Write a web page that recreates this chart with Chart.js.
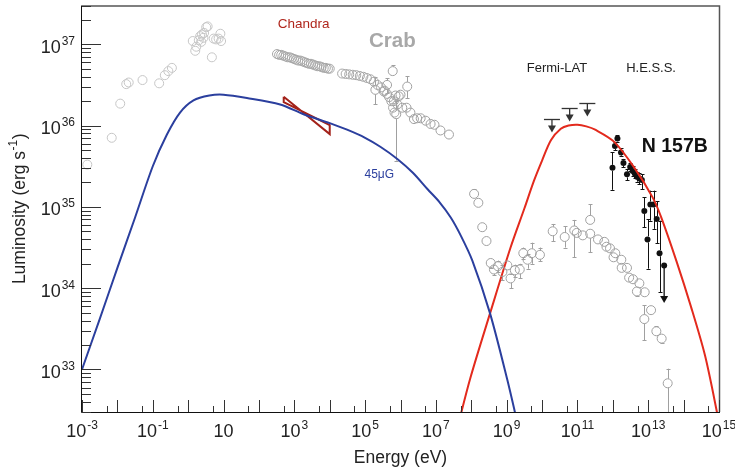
<!DOCTYPE html>
<html>
<head>
<meta charset="utf-8">
<script src="https://cdn.jsdelivr.net/npm/chart.js@4.4.1/dist/chart.umd.min.js"></script>
<style>
    html, body { margin: 0; padding: 0; background: #fff; }
    #wrap { width: 735px; height: 473px; }
</style>
</head>
<body>
<div id="wrap"><canvas id="sedChart"></canvas></div>
<script>
// values, as log10 (energy in eV, luminosity in erg/s)
const xTickPowers = [-3, -1, 1, 3, 5, 7, 9, 11, 13, 15];
const yTickPowers = [33, 34, 35, 36, 37];

// Crab radio / IR
const crabRadioE = [-2.85, -2.16, -1.92, -1.75, -1.68, -1.29, -0.82, -0.66, -0.56, -0.46, 0.13, 0.20, 0.23, 0.30, 0.34, 0.37, 0.39, 0.43, 0.45, 0.51, 0.55, 0.67, 0.72, 0.79, 0.86, 0.91, 0.93];
const crabRadioL = [35.52, 35.85, 36.27, 36.51, 36.53, 36.56, 36.52, 36.62, 36.67, 36.71, 37.04, 36.92, 36.97, 37.05, 37.10, 37.03, 37.12, 37.08, 37.14, 37.21, 37.22, 36.84, 37.07, 37.06, 37.07, 37.13, 37.04];

// Crab optical / UV band
const crabOptE = [2.51, 2.57, 2.63, 2.69, 2.75, 2.81, 2.87, 2.93, 2.99, 3.05, 3.11, 3.17, 3.23, 3.29, 3.35, 3.41, 3.47, 3.53, 3.59, 3.65, 3.71, 3.77, 3.83, 3.89, 3.95, 4.00];
const crabOptL = [36.88, 36.87, 36.87, 36.86, 36.85, 36.84, 36.84, 36.83, 36.82, 36.81, 36.80, 36.80, 36.79, 36.78, 36.77, 36.76, 36.76, 36.75, 36.74, 36.73, 36.73, 36.72, 36.71, 36.71, 36.70, 36.70];

// Crab X-ray band
const crabXrayE = [4.35, 4.45, 4.55, 4.65, 4.75, 4.85, 4.95, 5.05, 5.15, 5.25, 5.35, 5.45, 5.55, 5.62, 5.68, 5.74, 5.79, 5.83];
const crabXrayL = [36.64, 36.635, 36.63, 36.625, 36.62, 36.61, 36.60, 36.585, 36.57, 36.54, 36.50, 36.47, 36.43, 36.39, 36.35, 36.30, 36.22, 36.16];

// Crab hard X-ray / MeV points with error bars
const crabMevE = [5.29, 5.53, 5.62, 5.78, 5.81, 5.86, 5.88, 5.91, 5.95, 6.00, 6.05, 6.17, 6.19, 6.28, 6.38, 6.47, 6.57, 6.71, 6.85, 6.96, 7.13, 7.37];
const crabMevL = [36.44, 36.42, 36.50, 36.67, 36.30, 36.37, 36.14, 36.26, 36.36, 36.38, 36.22, 36.22, 36.48, 36.16, 36.08, 36.09, 36.09, 36.06, 36.02, 36.01, 35.94, 35.89];
const crabMevLo = [36.26, null, 36.40, 36.62, null, null, 35.57, null, null, null, null, null, 36.34, null, null, null, null, null, null, null, null, null];
const crabMevHi = [36.60, null, 36.58, 36.74, null, null, 36.30, null, null, null, null, null, 36.61, null, null, null, null, null, null, null, null, null];

// Crab gamma rays (Fermi + Cherenkov)
const crabGammaE = [8.08, 8.20, 8.31, 8.43, 8.55, 8.64, 8.75, 8.88, 9.02, 9.11, 9.23, 9.37, 9.47, 9.59, 9.71, 9.94, 10.30, 10.64, 10.91, 10.98, 11.15, 11.36, 11.36, 11.58, 11.76, 11.82, 11.92, 12.02, 12.07, 12.24, 12.25, 12.40, 12.46, 12.57, 12.68, 12.75, 12.90, 12.89, 13.08, 13.23, 13.38, 13.55];
const crabGammaL = [35.16, 35.05, 34.75, 34.58, 34.31, 34.23, 34.27, 34.20, 34.28, 34.12, 34.22, 34.23, 34.43, 34.35, 34.43, 34.41, 34.70, 34.63, 34.71, 34.68, 34.65, 34.84, 34.67, 34.60, 34.57, 34.51, 34.49, 34.38, 34.43, 34.35, 34.25, 34.25, 34.13, 34.11, 33.96, 34.06, 33.95, 33.62, 33.73, 33.47, 33.38, 32.83];
const crabGammaLo = [35.13, null, 34.70, 34.53, 34.25, 34.16, 34.20, 34.10, null, 34.00, 34.14, 34.12, 34.36, 34.24, 34.30, 34.33, 34.58, 34.50, 34.38, null, null, null, 34.44, null, null, null, null, null, null, null, null, null, null, null, 33.90, null, null, 33.36, 33.68, 33.42, 33.32, 32.30];
const crabGammaHi = [35.22, null, 34.80, 34.63, 34.36, null, 34.34, 34.28, null, 34.18, 34.29, 34.30, 34.50, 34.42, 34.56, 34.50, 34.79, 34.76, 34.84, null, null, 35.03, null, null, null, null, null, null, null, null, null, null, null, null, null, null, null, 33.79, 33.78, 33.53, null, 33.01];

// N 157B (H.E.S.S.)
const n157bE = [11.99, 12.06, 12.13, 12.23, 12.30, 12.40, 12.49, 12.56, 12.62, 12.68, 12.75, 12.82, 12.89, 12.98, 13.06, 13.15, 13.24, 13.32];
const n157bL = [35.48, 35.75, 35.84, 35.67, 35.54, 35.40, 35.49, 35.44, 35.41, 35.37, 35.35, 35.33, 34.95, 34.60, 35.03, 35.03, 34.85, 34.43];
const n157bLo = [35.21, 35.70, 35.80, 35.62, 35.49, 35.33, 35.44, 35.38, 35.36, 35.31, 35.28, 35.22, 34.75, 34.24, 34.83, 34.73, 34.55, 33.95];
const n157bHi = [35.67, 35.80, 35.88, 35.72, 35.59, 35.46, 35.54, 35.50, 35.46, 35.43, 35.42, 35.40, 35.12, 34.85, 35.20, 35.20, 35.07, 34.83];
const n157bUlE = [13.45];
const n157bUlL = [34.28];
const n157bUlTo = [33.83];

// Fermi-LAT upper limits
const fermiUlE = [10.28, 10.78, 11.28];
const fermiUlL = [36.08, 36.22, 36.28];

// model curves (synchrotron 45 uG, inverse Compton)
const synE = [-3.0, -2.5, -2.0, -1.5, -1.0, -0.6, -0.23, 0.15, 0.6, 1.0, 1.66, 2.6, 3.26, 4.0, 4.49, 5.0, 5.43, 5.91, 6.35, 6.76, 7.1, 7.42, 7.70, 8.03, 8.53, 9.02, 9.3];
const synL = [33.0, 33.62, 34.25, 34.87, 35.50, 35.89, 36.16, 36.31, 36.37, 36.38, 36.34, 36.26, 36.14, 36.03, 35.95, 35.85, 35.74, 35.59, 35.42, 35.22, 35.06, 34.87, 34.65, 34.34, 33.69, 32.87, 32.35];
const icE = [7.6, 7.97, 8.53, 9.11, 9.5, 9.77, 10.0, 10.25, 10.53, 10.75, 11.0, 11.25, 11.5, 12.04, 12.61, 13.12, 13.36, 13.8, 14.21, 14.6, 14.94, 15.1];
const icL = [32.27, 32.89, 33.69, 34.50, 34.98, 35.32, 35.57, 35.82, 35.96, 36.00, 36.01, 35.99, 35.95, 35.80, 35.48, 35.12, 34.88, 34.33, 33.77, 33.18, 32.48, 32.1];

// Chandra bow-tie (0.5 - 10 keV)
const chandraE = [2.70, 4.00, 4.00, 2.70, 2.70];
const chandraL = [36.355, 35.896, 36.006, 36.288, 36.355];

const toPts = (ex, ly) => ex.map((e, i) => ({ x: 10 ** e, y: 10 ** ly[i] }));

const FONT = '"Liberation Sans", Arial, Helvetica, sans-serif';

// open grey circles
const circle = (color, r) => ({
    type: 'scatter',
    pointStyle: 'circle',
    pointRadius: r,
    pointBorderWidth: 1,
    pointBorderColor: color,
    pointBackgroundColor: 'rgba(0,0,0,0)',
    showLine: false
});

const curve = (color) => ({
    type: 'line',
    borderColor: color,
    borderWidth: 2,
    pointRadius: 0,
    fill: false,
    tension: 0.3
});

const datasets = [
    Object.assign(circle('#c6c6c6', 4.5), { data: toPts(crabRadioE, crabRadioL) }),
    Object.assign(circle('#a6a6a6', 4.5), { data: toPts(crabOptE, crabOptL) }),
    Object.assign(circle('#a6a6a6', 4.5), { data: toPts(crabXrayE, crabXrayL) }),
    Object.assign(circle('#a0a0a0', 4.5), { data: toPts(crabMevE, crabMevL), errLo: crabMevLo, errHi: crabMevHi, errColor: '#a0a0a0' }),
    Object.assign(circle('#a0a0a0', 4.5), { data: toPts(crabGammaE, crabGammaL), errLo: crabGammaLo, errHi: crabGammaHi, errColor: '#a0a0a0' }),
    Object.assign(curve('#2b3f9e'), { data: toPts(synE, synL) }),
    Object.assign(curve('#e32a1d'), { data: toPts(icE, icL) }),
    { type: 'line', data: toPts(chandraE, chandraL), borderColor: '#a3221a', borderWidth: 2, pointRadius: 0, tension: 0, fill: false },
    {
        type: 'scatter', data: toPts(n157bE, n157bL), errLo: n157bLo, errHi: n157bHi, errColor: '#111',
        pointStyle: 'circle', pointRadius: 3, pointBackgroundColor: '#111', pointBorderColor: '#111', pointBorderWidth: 0
    },
    {
        type: 'scatter', data: toPts(n157bUlE, n157bUlL),
        pointStyle: 'circle', pointRadius: 3, pointBackgroundColor: '#111', pointBorderColor: '#111', pointBorderWidth: 0
    }
];

function arrowDown(ctx, x, y0, y1, color) {
    ctx.strokeStyle = color;
    ctx.fillStyle = color;
    ctx.lineWidth = 1.3;
    ctx.beginPath();
    ctx.moveTo(x, y0);
    ctx.lineTo(x, y1 - 5);
    ctx.stroke();
    ctx.beginPath();
    ctx.moveTo(x - 4, y1 - 6);
    ctx.lineTo(x + 4, y1 - 6);
    ctx.lineTo(x, y1 + 1);
    ctx.closePath();
    ctx.fill();
}

function drawPower(ctx, p, x, y, align) {
    const exp = p === 1 ? '' : String(p);
    ctx.font = '18px ' + FONT;
    const wb = ctx.measureText('10').width;
    ctx.font = '12px ' + FONT;
    const we = exp ? ctx.measureText(exp).width + 1 : 0;
    const total = wb + we;
    const x0 = align === 'center' ? x - total / 2 : x - total;
    ctx.textAlign = 'left';
    ctx.textBaseline = 'alphabetic';
    ctx.font = '18px ' + FONT;
    ctx.fillText('10', x0, y);
    if (exp) {
        ctx.font = '12px ' + FONT;
        ctx.fillText(exp, x0 + wb + 1, y - 8);
    }
}

const decor = {
    id: 'decor',
    beforeDatasetsDraw(chart) {
        const { ctx, chartArea: a } = chart;
        const xs = chart.scales.x;
        const ys = chart.scales.y;
        ctx.save();
        ctx.beginPath();
        ctx.rect(a.left, a.top, a.right - a.left, a.bottom - a.top);
        ctx.clip();
        chart.data.datasets.forEach(ds => {
            if (!ds.errLo) return;
            ctx.strokeStyle = ds.errColor;
            ctx.lineWidth = 1;
            const r = ds.pointRadius;
            ds.data.forEach((p, i) => {
                const px = Math.round(xs.getPixelForValue(p.x)) + 0.5;
                const py = ys.getPixelForValue(p.y);
                [ds.errLo[i], ds.errHi[i]].forEach((v, k) => {
                    if (v == null) return;
                    const ey = ys.getPixelForValue(10 ** v);
                    const sy = k === 0 ? py + r : py - r;
                    if ((k === 0 && ey <= sy) || (k === 1 && ey >= sy)) return;
                    ctx.beginPath();
                    ctx.moveTo(px, sy);
                    ctx.lineTo(px, ey);
                    ctx.moveTo(px - 2, Math.round(ey) + 0.5);
                    ctx.lineTo(px + 2, Math.round(ey) + 0.5);
                    ctx.stroke();
                });
            });
        });
        ctx.restore();
    },
    afterDatasetsDraw(chart) {
        const { ctx, chartArea: a } = chart;
        const xs = chart.scales.x;
        const ys = chart.scales.y;
        ctx.save();

        // Fermi-LAT upper limits
        fermiUlE.forEach((e, i) => {
            const px = xs.getPixelForValue(10 ** e);
            const py = Math.round(ys.getPixelForValue(10 ** fermiUlL[i])) + 0.5;
            ctx.strokeStyle = '#333';
            ctx.lineWidth = 1.3;
            ctx.beginPath();
            ctx.moveTo(px - 8, py);
            ctx.lineTo(px + 8, py);
            ctx.stroke();
            arrowDown(ctx, px, py, py + 12, '#333');
        });
        // N 157B upper limit
        n157bUlE.forEach((e, i) => {
            const px = xs.getPixelForValue(10 ** e);
            arrowDown(ctx, px, ys.getPixelForValue(10 ** n157bUlL[i]),
                ys.getPixelForValue(10 ** n157bUlTo[i]), '#111');
        });

        // frame
        ctx.lineWidth = 1.5;
        ctx.strokeStyle = '#555';
        ctx.beginPath();
        ctx.moveTo(a.left, a.top + 0.5);
        ctx.lineTo(a.right + 0.5, a.top + 0.5);
        ctx.lineTo(a.right + 0.5, a.bottom);
        ctx.stroke();
        ctx.lineWidth = 1;
        ctx.strokeStyle = '#111';
        ctx.beginPath();
        ctx.moveTo(a.left - 0.5, a.top);
        ctx.lineTo(a.left - 0.5, a.bottom + 0.5);
        ctx.lineTo(a.right + 1, a.bottom + 0.5);
        ctx.stroke();

        // ticks
        ctx.strokeStyle = '#333';
        for (let p = -3; p <= 15; p++) {
            [1, 5].forEach(m => {
                const v = m * 10 ** p;
                if (v < xs.min || v > xs.max * 1.0001) return;
                const px = Math.round(xs.getPixelForValue(v)) + 0.5;
                const len = m === 1 ? 12 : 6;
                ctx.beginPath();
                ctx.moveTo(px, a.bottom);
                ctx.lineTo(px, a.bottom - len);
                ctx.stroke();
            });
        }
        for (let p = 32; p <= 37; p++) {
            for (let m = 1; m <= 9; m++) {
                const v = m * 10 ** p;
                if (v < ys.min || v > ys.max) continue;
                const py = Math.round(ys.getPixelForValue(v)) + 0.5;
                const len = m === 1 ? 19 : 9;
                ctx.beginPath();
                ctx.moveTo(a.left, py);
                ctx.lineTo(a.left + len, py);
                ctx.stroke();
            }
        }

        // tick labels
        ctx.fillStyle = '#222';
        xTickPowers.forEach(p => {
            drawPower(ctx, p, xs.getPixelForValue(10 ** p), 437, 'center');
        });
        yTickPowers.forEach(p => {
            drawPower(ctx, p, 75, ys.getPixelForValue(10 ** p) + 8.5, 'right');
        });

        // axis titles
        ctx.font = '17.5px ' + FONT;
        ctx.textAlign = 'center';
        ctx.textBaseline = 'alphabetic';
        ctx.fillText('Energy (eV)', (a.left + a.right) / 2, 463);

        ctx.save();
        ctx.translate(25, (a.top + a.bottom) / 2);
        ctx.rotate(-Math.PI / 2);
        const t1 = 'Luminosity (erg s';
        const t2 = '-1';
        const t3 = ')';
        ctx.font = '17.5px ' + FONT;
        const w1 = ctx.measureText(t1).width;
        const w3 = ctx.measureText(t3).width;
        ctx.font = '12px ' + FONT;
        const w2 = ctx.measureText(t2).width;
        const x0 = -(w1 + w2 + w3 + 1) / 2;
        ctx.textAlign = 'left';
        ctx.font = '17.5px ' + FONT;
        ctx.fillText(t1, x0, 0);
        ctx.font = '12px ' + FONT;
        ctx.fillText(t2, x0 + w1 + 0.5, -8);
        ctx.font = '17.5px ' + FONT;
        ctx.fillText(t3, x0 + w1 + w2 + 1, 0);
        ctx.restore();

        // annotations
        const labels = [
            { text: 'Chandra', e: 3.26, l: 37.26, font: '13.5px ' + FONT, color: '#b0261c' },
            { text: 'Crab', e: 5.77, l: 37.045, font: 'bold 20.5px ' + FONT, color: '#a8a8a8' },
            { text: 'Fermi-LAT', e: 10.42, l: 36.714, font: '13px ' + FONT, color: '#222' },
            { text: 'H.E.S.S.', e: 13.08, l: 36.714, font: '13px ' + FONT, color: '#222' },
            { text: 'N 157B', e: 13.75, l: 35.75, font: 'bold 19.5px ' + FONT, color: '#111' },
            { text: '45\u03bcG', e: 5.40, l: 35.41, font: '12px ' + FONT, color: '#2b3f9e' }
        ];
        ctx.textAlign = 'center';
        ctx.textBaseline = 'middle';
        labels.forEach(lb => {
            ctx.font = lb.font;
            ctx.fillStyle = lb.color;
            ctx.fillText(lb.text, xs.getPixelForValue(10 ** lb.e), ys.getPixelForValue(10 ** lb.l) + 1);
        });

        ctx.restore();
    }
};

const config = {
    type: 'scatter',
    data: { datasets: datasets },
    options: {
        responsive: true,
        maintainAspectRatio: false,
        animation: false,
        layout: { padding: { top: 4, right: 16, left: 0, bottom: 0 } },
        plugins: {
            legend: { display: false },
            tooltip: { enabled: false }
        },
        scales: {
            x: {
                type: 'logarithmic',
                min: 1e-3,
                max: 1e15,
                grid: { display: false },
                border: { display: false },
                ticks: { display: false },
                afterFit: s => { s.height = 61; }
            },
            y: {
                type: 'logarithmic',
                min: 3e32,
                max: 3e37,
                grid: { display: false },
                border: { display: false },
                ticks: { display: false },
                afterFit: s => { s.width = 82; }
            }
        }
    },
    plugins: [decor]
};

const sedChart = new Chart(document.getElementById('sedChart'), config);
</script>
</body>
</html>
